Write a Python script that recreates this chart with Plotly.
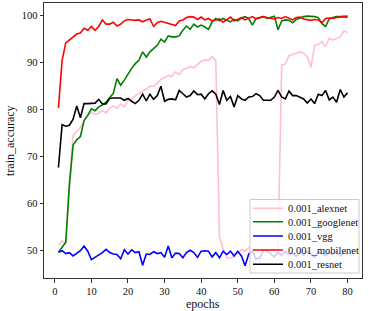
import plotly.graph_objects as go

epochs = list(range(1, 81))

alexnet = [51.2, 52.1, 51.5, 65.0, 74.5, 75.3, 76.2, 77.6, 78.8, 79.4,
           79.0, 79.2, 79.8, 79.3, 80.3, 80.8, 80.3, 81.2, 80.6, 82.0,
           82.3, 83.0, 83.4, 84.0, 84.3, 85.0, 85.0, 85.6, 86.5, 86.8,
           87.3, 87.1, 88.0, 87.5, 88.5, 88.8, 89.2, 88.9, 89.7, 90.3,
           90.6, 90.5, 91.3, 90.5, 53.0, 50.3, 48.5, 48.4, 48.8, 49.6,
           50.2, 49.9, 50.7, 50.3, 49.0, 47.2, 49.9, 50.0, 49.2, 48.6,
           50.0, 89.5, 89.7, 91.5, 91.8, 92.0, 92.3, 92.0, 91.3, 89.0,
           93.7, 93.9, 94.5, 93.4, 95.2, 94.8, 95.2, 95.5, 96.8, 96.4]

googlenet = [49.7, 50.8, 51.8, 64.0, 72.5, 73.6, 74.3, 77.7, 78.8, 80.2,
             79.8, 80.6, 81.0, 81.6, 82.5, 83.5, 86.6, 85.2, 86.3, 87.7,
             88.8, 89.8, 90.5, 92.3, 91.2, 92.3, 93.0, 93.7, 95.0, 94.4,
             95.7, 95.5, 95.5, 95.7, 96.9, 97.8, 97.1, 98.2, 97.6, 98.0,
             97.6, 97.1, 98.7, 99.4, 98.9, 99.4, 99.0, 98.7, 99.2, 98.9,
             99.5, 99.8, 99.4, 98.0, 99.4, 99.6, 99.8, 99.4, 99.7, 99.9,
             97.0, 98.9, 99.1, 99.0, 98.5, 99.2, 99.5, 99.8, 99.9, 99.9,
             99.8, 99.6, 98.3, 97.7, 99.3, 99.6, 99.8, 99.8, 99.9, 99.9]

vgg = [49.7, 50.0, 49.4, 49.6, 48.9, 49.4, 50.0, 51.0, 49.9, 48.1,
       48.6, 49.2, 49.6, 50.3, 49.6, 49.3, 49.2, 48.3, 50.2, 49.3,
       50.2, 49.6, 49.8, 46.9, 49.3, 49.2, 49.8, 49.4, 49.6, 48.6,
       51.0, 48.5, 49.5, 49.4, 48.5, 49.6, 50.1, 49.6, 48.6, 49.9,
       50.0, 49.9, 48.7, 49.6, 48.5, 49.9, 49.2, 49.9, 48.9, 49.9,
       48.9, 46.8, 49.3, 49.9, 48.2, 48.5, 50.1, 50.0, 49.3, 48.7,
       49.6, 49.0, 49.8, 49.2, 49.5, 48.8, 49.7, 49.1, 49.9, 49.3,
       48.6, 49.8, 49.4, 49.0, 49.7, 49.2, 49.8, 48.9, 49.5, 49.3]

mobilenet = [80.4, 90.5, 94.2, 94.8, 95.3, 96.1, 96.3, 97.3, 96.9, 97.7,
             96.9, 97.7, 99.1, 98.2, 98.2, 98.6, 97.8, 98.2, 98.9, 99.2,
             99.1, 99.0, 99.1, 98.7, 99.1, 99.3, 97.7, 98.5, 98.8, 98.6,
             98.3, 98.1, 97.9, 98.9, 99.1, 99.6, 99.8, 99.7, 99.2, 99.7,
             99.1, 99.4, 98.9, 99.1, 99.3, 98.6, 99.1, 99.7, 98.9, 99.3,
             99.6, 99.1, 99.4, 99.8, 99.3, 99.6, 99.8, 99.6, 99.5, 99.3,
             99.6, 99.4, 99.8, 99.5, 99.1, 99.6, 99.7, 99.3, 99.1, 99.0,
             99.2, 99.1, 98.5, 99.4, 99.5, 99.4, 99.6, 99.7, 99.8, 99.6]

resnet = [67.7, 76.8, 76.5, 76.7, 78.0, 80.8, 78.3, 81.3, 81.3, 81.3,
          81.4, 82.2, 81.2, 81.2, 82.4, 82.5, 82.5, 82.5, 82.0, 82.4,
          81.8, 81.3, 82.0, 83.3, 81.9, 83.3, 82.2, 83.0, 85.0, 81.8,
          82.2, 82.3, 82.1, 84.1, 83.4, 82.7, 83.0, 84.0, 83.2, 83.3,
          82.3, 83.4, 84.0, 83.3, 81.1, 84.1, 82.0, 82.8, 80.6, 83.0,
          82.3, 82.0, 82.7, 82.8, 83.4, 83.0, 82.0, 82.0, 82.0, 82.7,
          84.1, 82.7, 82.3, 84.0, 83.0, 83.0, 82.7, 82.3, 81.4, 82.3,
          81.3, 83.3, 83.0, 84.1, 82.1, 82.7, 81.6, 84.3, 82.7, 83.6]

series_names = ["0.001_alexnet", "0.001_googlenet", "0.001_vgg",
                "0.001_mobilenet", "0.001_resnet"]
series_values = [alexnet, googlenet, vgg, mobilenet, resnet]
series_colors = ["#FFC0CB", "#008000", "#0000FF", "#FF0000", "#000000"]

x_ticks = [0, 10, 20, 30, 40, 50, 60, 70, 80]
y_ticks = [50, 60, 70, 80, 90, 100]

FONT = "'Liberation Serif', 'Times New Roman', serif"

# plot area in pixels (for placing legend rows)
W, H = 369, 311
ml, mr, mt, mb = 44, 7, 3, 33
pw, ph = W - ml - mr, H - mt - mb


def px2x(px):
    return (px - ml) / pw


def py2y(py):
    return (H - mb - py) / ph


fig = go.Figure()
legend_keys = ["legend", "legend2", "legend3", "legend4", "legend5"]
for name, vals, col, lk in zip(series_names, series_values, series_colors, legend_keys):
    fig.add_trace(go.Scatter(x=epochs, y=vals, mode="lines", name=name,
                             line=dict(color=col, width=1.6), legend=lk))

row_centers = [208.3, 221.7, 236.0, 250.0, 264.3]
layout_legends = {}
for lk, rc in zip(legend_keys, row_centers):
    layout_legends[lk] = dict(
        x=px2x(248), xanchor="left", y=py2y(rc), yanchor="middle",
        bgcolor="rgba(0,0,0,0)", borderwidth=0,
        font=dict(family=FONT, size=10.5, color="#111"),
        itemwidth=30,
    )

fig.update_layout(
    width=W, height=H,
    margin=dict(l=ml, r=mr, t=mt, b=mb, pad=0),
    paper_bgcolor="white", plot_bgcolor="white",
    font=dict(family=FONT, size=10.5, color="#111"),
    showlegend=True,
    xaxis=dict(range=[-2.95, 83.95], tickvals=x_ticks, ticks="outside",
               ticklen=3.5, tickcolor="#333", showgrid=False, zeroline=False,
               showline=True, linecolor="#333", linewidth=1, mirror=True,
               tickfont=dict(family=FONT, size=10.5, color="#111")),
    yaxis=dict(range=[44.2, 102.7], tickvals=y_ticks, ticks="outside",
               ticklen=3.5, tickcolor="#333", showgrid=False, zeroline=False,
               showline=True, linecolor="#333", linewidth=1, mirror=True,
               tickfont=dict(family=FONT, size=10.5, color="#111")),
    shapes=[dict(type="rect", xref="paper", yref="paper", layer="above",
                 x0=px2x(250), x1=px2x(359), y0=py2y(273), y1=py2y(199.5),
                 fillcolor="rgba(255,255,255,0.8)",
                 line=dict(color="#cccccc", width=1))],
    annotations=[
        dict(text="epochs", xref="paper", yref="paper", x=0.5, y=py2y(303.5),
             xanchor="center", yanchor="middle", showarrow=False,
             font=dict(family=FONT, size=12, color="#111")),
        dict(text="train_accuracy", xref="paper", yref="paper", x=px2x(10),
             y=py2y(141), xanchor="center", yanchor="middle", textangle=-90,
             showarrow=False, font=dict(family=FONT, size=12, color="#111")),
    ],
    **layout_legends,
)

fig.write_html("out.html", config={"displayModeBar": False},
               post_script="document.body.style.margin='0';document.body.style.overflow='hidden';")
